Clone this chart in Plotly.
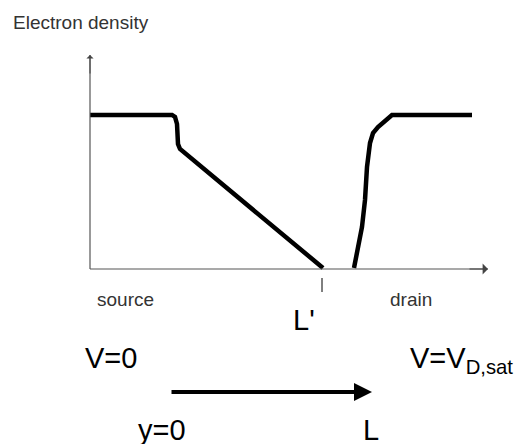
import plotly.graph_objects as go

# Electron density profile along the channel (x: position, y: density)
source_x = [0, 82, 85, 87, 88, 90, 233]
source_y = [154, 154, 152, 145, 125, 120, 1]
drain_x = [264, 268, 272, 275, 277, 280, 283, 288, 297, 302, 382]
drain_y = [1, 19, 42, 69, 102, 126, 136, 142, 149, 154, 154]

L_prime = 232
axis_x_end = 398
axis_y_end = 214

FONT = "Arial, Liberation Sans, sans-serif"

fig = go.Figure()
fig.add_trace(go.Scatter(x=source_x, y=source_y, mode="lines",
                         line=dict(color="black", width=4.5), hoverinfo="skip"))
fig.add_trace(go.Scatter(x=drain_x, y=drain_y, mode="lines",
                         line=dict(color="black", width=4.5), hoverinfo="skip"))

# axes
fig.add_shape(type="line", x0=0, y0=0, x1=axis_x_end, y1=0,
              line=dict(color="#555", width=1.2), xref="x", yref="y")
fig.add_shape(type="line", x0=0, y0=0, x1=0, y1=axis_y_end,
              line=dict(color="#555", width=1.2), xref="x", yref="y")
fig.add_annotation(x=axis_x_end, y=0, ax=axis_x_end - 20, ay=0, axref="x", ayref="y",
                   xref="x", yref="y", text="", showarrow=True, arrowhead=1,
                   arrowsize=1.5, arrowwidth=1.2, arrowcolor="#444")
fig.add_annotation(x=0, y=axis_y_end, ax=0, ay=axis_y_end - 20, axref="x", ayref="y",
                   xref="x", yref="y", text="", showarrow=True, arrowhead=1,
                   arrowsize=1.2, arrowwidth=1, arrowcolor="#444")
# tick at L'
fig.add_shape(type="line", x0=L_prime, y0=-9, x1=L_prime, y1=-23,
              line=dict(color="black", width=1), xref="x", yref="y")

# direction arrow
fig.add_annotation(x=282, y=-123, ax=80, ay=-123, axref="x", ayref="y",
                   xref="x", yref="y", text="", showarrow=True, arrowhead=2,
                   arrowsize=0.9, arrowwidth=4, arrowcolor="black")

small = dict(family=FONT, size=19, color="#333")
big = dict(family=FONT, size=29, color="black")
texts = [
    ("Electron density", -9, 247, small, "center"),
    ("source", 35, -30, small, "center"),
    ("drain", 321, -30, small, "center"),
    ("L'", 214, -51, big, "center"),
    ("V=0", 21, -89, big, "center"),
    ("y=0", 72, -161, big, "center"),
    ("L", 281, -161, big, "center"),
]
for t, x, y, f, xa in texts:
    fig.add_annotation(x=x, y=y, text=t, showarrow=False, font=f, xanchor=xa,
                       yanchor="middle", xref="x", yref="y")
fig.add_annotation(x=318, y=-91, text="V=V<sub>D,sat</sub>", showarrow=False,
                   font=big, xanchor="left", yanchor="middle", xref="x", yref="y")

fig.update_layout(
    width=530, height=444, margin=dict(l=0, r=0, t=0, b=0),
    paper_bgcolor="white", plot_bgcolor="white", showlegend=False,
    xaxis=dict(range=[-90, 440], visible=False, fixedrange=True),
    yaxis=dict(range=[-175, 269], visible=False, fixedrange=True),
)
fig.write_html("out.html", config={"displayModeBar": False},
               post_script="document.body.style.margin='0';document.body.style.overflow='hidden';")
